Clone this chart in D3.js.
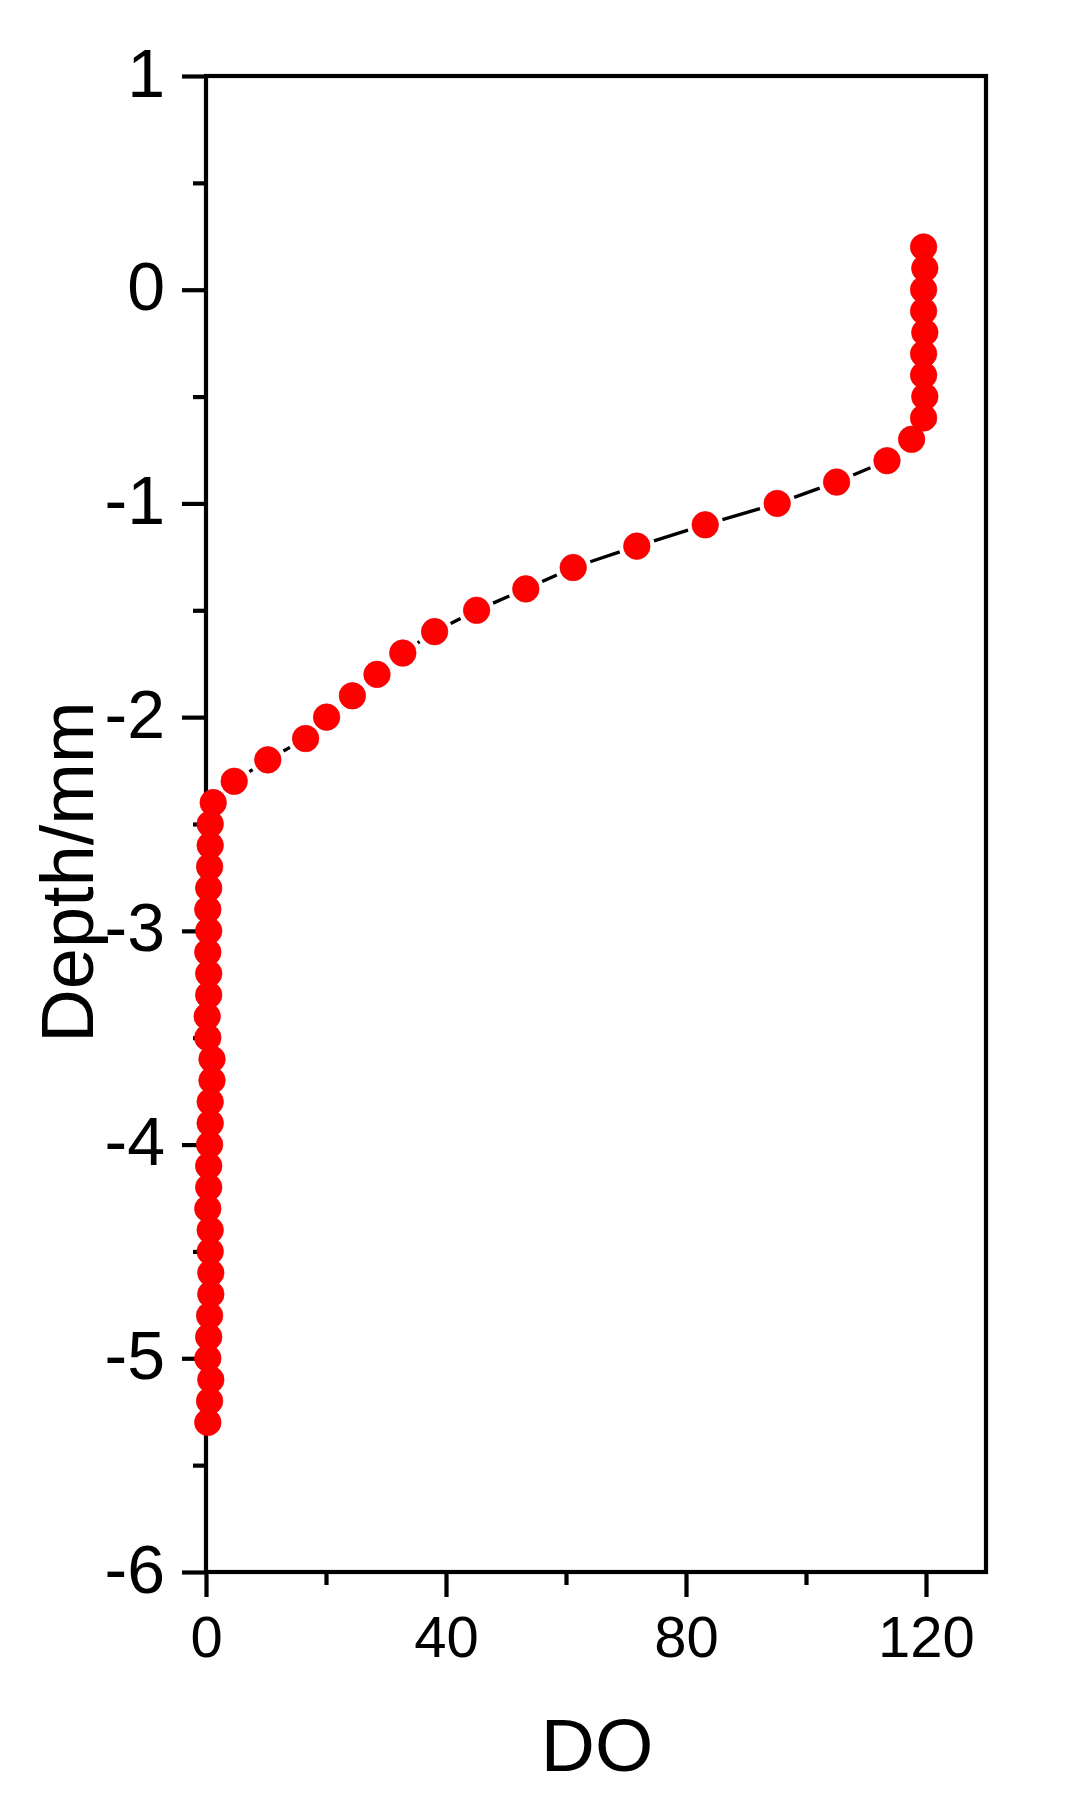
<!DOCTYPE html>
<html>
<head>
<meta charset="utf-8">
<script src="https://cdn.jsdelivr.net/npm/d3@7"></script>
<style>
  html, body { margin: 0; padding: 0; background: #ffffff; }
  svg { display: block; }
  text { font-family: Arial, "Liberation Sans", sans-serif; fill: #000; }
</style>
</head>
<body>
<svg id="chart" width="1080" height="1794"></svg>
<script>
// ---- data ----
const depth = [0.2, 0.1, 0.0, -0.1, -0.2, -0.3, -0.4, -0.5, -0.6, -0.7,
  -0.8, -0.9, -1.0, -1.1, -1.2, -1.3, -1.4, -1.5, -1.6, -1.7,
  -1.8, -1.9, -2.0, -2.1, -2.2, -2.3, -2.4, -2.5, -2.6, -2.7,
  -2.8, -2.9, -3.0, -3.1, -3.2, -3.3, -3.4, -3.5, -3.6, -3.7,
  -3.8, -3.9, -4.0, -4.1, -4.2, -4.3, -4.4, -4.5, -4.6, -4.7,
  -4.8, -4.9, -5.0, -5.1, -5.2, -5.3];
const doValues = [119.6, 119.8, 119.6, 119.6, 119.8, 119.6, 119.6, 119.8, 119.6, 117.6,
  113.5, 105.1, 95.2, 83.2, 71.8, 61.2, 53.3, 45.1, 38.1, 32.8,
  28.5, 24.4, 20.1, 16.6, 10.3, 4.7, 1.2, 0.7, 0.7, 0.6,
  0.45, 0.3, 0.45, 0.3, 0.45, 0.45, 0.2, 0.3, 1.0, 1.0,
  0.7, 0.7, 0.6, 0.45, 0.45, 0.3, 0.7, 0.7, 0.8, 0.8,
  0.6, 0.45, 0.3, 0.8, 0.6, 0.3];
const xTicks = [0, 40, 80, 120];
const xMinorTicks = [20, 60, 100];
const yTicks = [1, 0, -1, -2, -3, -4, -5, -6];
const yMinorTicks = [0.5, -0.5, -1.5, -2.5, -3.5, -4.5, -5.5];
const xLabel = "DO";
const yLabel = "Depth/mm";

// ---- layout ----
const pL = 206, pR = 986, pT = 76, pB = 1572;
const svg = d3.select("#chart");
const x = d3.scaleLinear().domain([0, 130]).range([pL, pR]);
const y = d3.scaleLinear().domain([-6, 1]).range([pB, pT]);

const axisW = 4.2;
const fontFam = "Arial, 'Liberation Sans', sans-serif";

// minor ticks (no labels)
const xMinorG = svg.append("g").attr("transform", `translate(0,${pB})`)
  .call(d3.axisBottom(x).tickValues(xMinorTicks).tickSize(13).tickFormat(""));
xMinorG.selectAll(".domain, text").remove();
xMinorG.selectAll("line").attr("stroke", "#000").attr("stroke-width", axisW);

const yMinorG = svg.append("g").attr("transform", `translate(${pL},0)`)
  .call(d3.axisLeft(y).tickValues(yMinorTicks).tickSize(13).tickFormat(""));
yMinorG.selectAll(".domain, text").remove();
yMinorG.selectAll("line").attr("stroke", "#000").attr("stroke-width", axisW);

// bottom axis (major)
const xAxisG = svg.append("g").attr("transform", `translate(0,${pB})`)
  .call(d3.axisBottom(x).tickValues(xTicks).tickSize(25).tickFormat(d3.format("d")));
xAxisG.selectAll(".domain").remove();
xAxisG.selectAll("line").attr("stroke", "#000").attr("stroke-width", axisW);
xAxisG.selectAll("text").attr("font-size", 58).attr("font-family", fontFam)
  .attr("dy", null).attr("y", 85);

// left axis (major)
const yAxisG = svg.append("g").attr("transform", `translate(${pL},0)`)
  .call(d3.axisLeft(y).tickValues(yTicks).tickSize(24).tickFormat(d3.format("d")));
yAxisG.selectAll(".domain").remove();
yAxisG.selectAll("line").attr("stroke", "#000").attr("stroke-width", axisW);
yAxisG.selectAll("text").attr("font-size", 68).attr("font-family", fontFam)
  .attr("dy", null).attr("y", 20).attr("x", -41)
  .text(d => d < 0 ? "-" + Math.abs(d) : String(d));

// frame
svg.append("rect").attr("x", pL).attr("y", pT).attr("width", pR - pL).attr("height", pB - pT)
  .attr("fill", "none").attr("stroke", "#000").attr("stroke-width", axisW);

// axis titles
svg.append("text").attr("x", 597).attr("y", 1771).attr("text-anchor", "middle")
  .attr("font-size", 75).text(xLabel);
svg.append("text").attr("transform", "translate(93,872) rotate(-90)").attr("text-anchor", "middle")
  .attr("font-size", 74).text(yLabel);

// data
const pts = depth.map((d, i) => ({ px: x(doValues[i]), py: y(d) }));
const r = 13.3, gap = 18;
const segs = [];
for (let i = 0; i < pts.length - 1; i++) {
  const a = pts[i], b = pts[i + 1];
  const dx = b.px - a.px, dy = b.py - a.py, L = Math.hypot(dx, dy);
  if (L > 2 * gap + 0.5) {
    const ux = dx / L, uy = dy / L;
    segs.push({ x1: a.px + ux * gap, y1: a.py + uy * gap, x2: b.px - ux * gap, y2: b.py - uy * gap });
  }
}
svg.append("g").selectAll("line").data(segs).join("line")
  .attr("x1", d => d.x1).attr("y1", d => d.y1).attr("x2", d => d.x2).attr("y2", d => d.y2)
  .attr("stroke", "#000").attr("stroke-width", 3.3);

svg.append("g").selectAll("circle").data(pts).join("circle")
  .attr("cx", d => d.px).attr("cy", d => d.py).attr("r", r)
  .attr("fill", "#ff0000").attr("stroke", "#e60000").attr("stroke-width", 0.6);
</script>
</body>
</html>
